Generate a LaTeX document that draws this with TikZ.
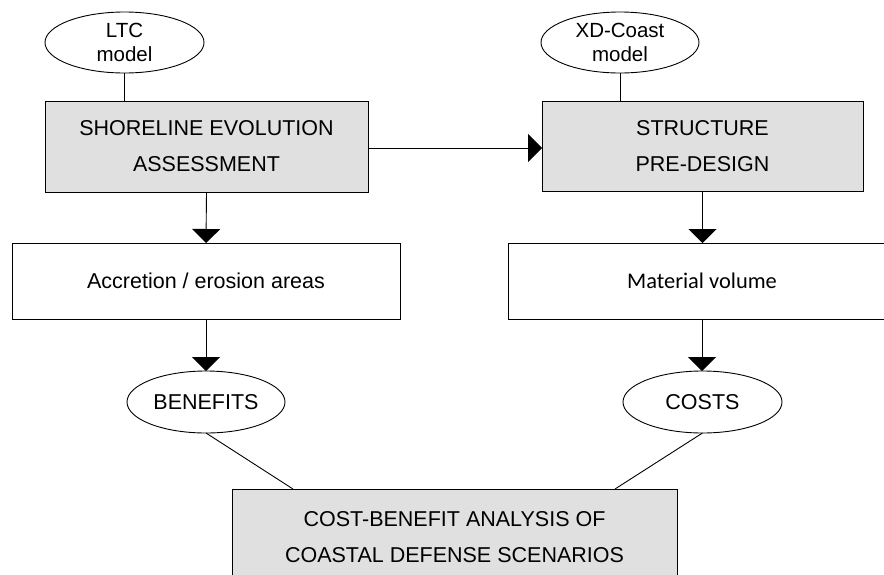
\documentclass[tikz,border=0pt]{standalone}
\usepackage{fontspec}
\setmainfont{Liberation Sans}
\newfontfamily\calfont{Carlito}
\usetikzlibrary{arrows.meta,shapes.geometric}
\definecolor{boxgray}{HTML}{E0E0E0}
\begin{document}
\begin{tikzpicture}[x=1pt,y=-1pt,
  every node/.style={inner sep=0pt,outer sep=0pt,font=\fontsize{21.5}{36}\selectfont,align=center},
  oval/.style={draw=black,line width=0.9pt,ellipse},
  smalltext/.style={font=\fontsize{20.5}{24.5}\selectfont},
  graybox/.style={draw=black,line width=0.9pt,fill=boxgray,rectangle},
  whitebox/.style={draw=black,line width=0.9pt,fill=white,rectangle},
  conn/.style={draw=black,line width=0.9pt},
  arr/.style={conn,-{Triangle[width=28pt,length=14pt]}}]
\clip (0,0) rectangle (884,574);
\fill[white] (0,0) rectangle (884,574);

\node[oval,smalltext,minimum width=159pt,minimum height=61pt] (ltc) at (124.5,42.5) {LTC\\model};
\node[oval,smalltext,minimum width=158pt,minimum height=61pt] (xd) at (620,42.5) {XD-Coast\\model};

\node[graybox,minimum width=323pt,minimum height=91pt] (sea) at (206.5,146.5) {SHORELINE EVOLUTION\\ASSESSMENT};
\node[graybox,minimum width=321pt,minimum height=90pt] (spd) at (702.5,146) {STRUCTURE\\PRE-DESIGN};

\node[whitebox,minimum width=388pt,minimum height=76pt] (acc) at (206,281) {Accretion / erosion areas};
\node[whitebox,minimum width=388pt,minimum height=76pt,font=\calfont\fontsize{22.4}{26}\selectfont] (mat) at (702,281) {Material volume};

\node[oval,minimum width=158pt,minimum height=62pt] (ben) at (206,402) {BENEFITS};
\node[oval,minimum width=159pt,minimum height=62pt] (cos) at (702.5,402) {COSTS};

\node[graybox,minimum width=445pt,minimum height=96pt] (cba) at (454.5,537) {COST-BENEFIT ANALYSIS OF\\COASTAL DEFENSE SCENARIOS};

\draw[conn] (ltc.south) -- (ltc.south |- sea.north);
\draw[conn] (xd.south) -- (xd.south |- spd.north);
\draw[arr] ([yshift=-1.5pt]sea.east) -- ([yshift=-1.5pt]sea.east -| spd.west);
\draw[arr] (sea.south) -- (acc.north);
\draw[arr] (spd.south) -- (spd.south |- mat.north);
\draw[arr] (acc.south) -- (ben.north);
\draw[arr] (mat.south) -- (mat.south |- cos.north);
\draw[conn] (ben.south) -- ([xshift=61pt]cba.north west);
\draw[conn] (cos.south) -- ([xshift=-62pt]cba.north east);
\end{tikzpicture}
\end{document}
